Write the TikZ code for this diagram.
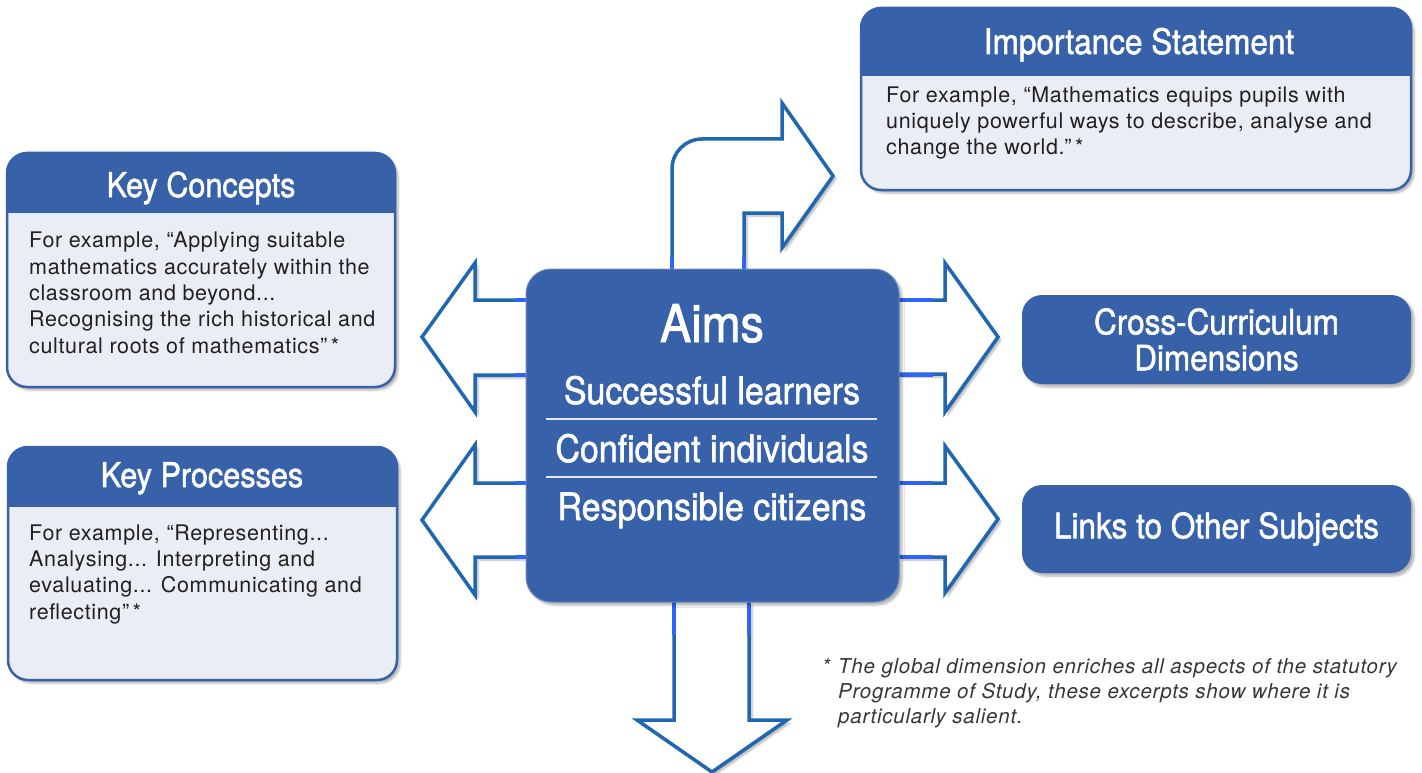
\documentclass[tikz,border=0pt]{standalone}
\usepackage{fontspec}
\usepackage{xcolor}
\usepackage{tikz}
\usetikzlibrary{shadows.blur}

\setmainfont{TeX Gyre Heros}
\newfontfamily\condfont[FakeStretch=0.9,FakeBold=1.5]{TeX Gyre Heros}
\newfontfamily\bodyfont[LetterSpace=3]{TeX Gyre Heros}
\newfontfamily\notefont[LetterSpace=3.8]{TeX Gyre Heros}

\definecolor{boxblue}{RGB}{55,97,168}
\definecolor{arrowblue}{RGB}{33,102,177}
\definecolor{brightblue}{RGB}{45,100,250}
\definecolor{panelfill}{RGB}{233,238,246}
\definecolor{inktext}{RGB}{35,31,32}

\begin{document}
\begin{tikzpicture}[x=1pt,y=-1pt,
    soft/.style={blur shadow={shadow xshift=3pt,shadow yshift=-3pt,shadow blur steps=6,shadow opacity=30}},
    panel/.style={draw=boxblue,line width=2.5pt,fill=panelfill,rounded corners=20pt,inner sep=0pt,soft,
        path picture={\fill[boxblue,sharp corners] (path picture bounding box.north west) rectangle ([yshift=-#1]path picture bounding box.north east);}},
    tag/.style={fill=boxblue,rounded corners=20pt,inner sep=0pt,soft,text=white,align=center,
        font=\condfont\fontsize{35}{36}\selectfont},
    headtext/.style={text=white,font=\condfont\fontsize{34}{40}\selectfont,anchor=base},
    aimtext/.style={text=white,font=\condfont\fontsize{37.7}{44}\selectfont,anchor=base},
    bodytext/.style={text=inktext,font=\bodyfont\fontsize{21.5}{26.3}\selectfont,align=left,anchor=base west,inner sep=0pt},
    blockarrow/.style={draw=arrowblue,line width=3.5pt,fill=white,line join=miter,soft},
    seam/.style={draw=brightblue,line width=3.5pt}]
    \useasboundingbox (0,0) rectangle (1422,773);

    % block arrows out of the aims box
    \draw[blockarrow] (526,300) -- (475,300) -- (475,263) -- (422,337) -- (475,412) -- (475,375) -- (526,375);
    \draw[blockarrow] (526,483) -- (475,483) -- (475,445) -- (422,520) -- (475,595) -- (475,557) -- (526,557);
    \draw[blockarrow] (899,300) -- (945,300) -- (945,263) -- (998,337) -- (945,412) -- (945,374) -- (899,374);
    \draw[blockarrow] (899,483) -- (945,483) -- (945,446) -- (998,519) -- (945,593) -- (945,557) -- (899,557);
    \draw[blockarrow] (672,269) -- (672,169) .. controls (672,152.4) and (685.4,139) .. (702,139) -- (782,139)
        -- (782,103) -- (833,176) -- (782,248) -- (782,213) -- (744,213) -- (744,269);
    \draw[blockarrow] (674,602) -- (674,720) -- (637,720) -- (712,772) -- (787,720) -- (749,720) -- (749,602);
    \foreach \y in {300,375,483,557} {
        \draw[seam] (515,\y) -- (526,\y);
        \draw[seam] (899,\y) -- (933,\y);
    }
    \foreach \x in {672,744} \draw[seam] (\x,257) -- (\x,269);
    \foreach \x in {674,749} \draw[seam] (\x,602) -- (\x,635);

    % aims
    \node[tag,rounded corners=25pt,draw=boxblue!75!white,line width=1pt,minimum width=373pt,minimum height=333pt] (aims) at (712.5,435.5) {};
    \node[text=white,font=\condfont\fontsize{52}{60}\selectfont,anchor=base] (aimshead) at (712,342) {Aims};
    \node[aimtext] (learners) at (712,404) {Successful learners};
    \node[aimtext] (individuals) at (712,462) {Confident individuals};
    \node[aimtext] (citizens) at (712,520) {Responsible citizens};
    \draw[white!85!boxblue,line width=1.5pt] (546,419) -- (877,419);
    \draw[white!85!boxblue,line width=1.5pt] (546,477) -- (877,477);

    % panels (text nodes sit on the baseline of their last line)
    \node[panel=60pt,minimum width=388pt,minimum height=234pt] (concepts) at (201,270) {};
    \node[headtext] (conceptshead) at (201,197) {Key Concepts};
    \node[bodytext] (conceptstext) at (29,353) {For example, “Applying suitable\\mathematics accurately within the\\classroom and beyond...\\Recognising the rich historical and\\cultural roots of mathematics”\,*};

    \node[panel=60pt,minimum width=389pt,minimum height=233pt] (processes) at (202.5,563.5) {};
    \node[headtext] (processeshead) at (202,487) {Key Processes};
    \node[bodytext] (processestext) at (29,619) {For example, “Representing...\\Analysing... Interpreting and\\evaluating... Communicating and\\reflecting”\,*};

    \node[panel=68pt,minimum width=550pt,minimum height=182pt] (importance) at (1136,99) {};
    \node[headtext,font=\condfont\fontsize{35}{40}\selectfont] (importancehead) at (1139,54) {Importance Statement};
    \node[bodytext] (importancetext) at (886,155) {For example, “Mathematics equips pupils with\\uniquely powerful ways to describe, analyse and\\change the world.”\,*};

    \node[tag,minimum width=389pt,minimum height=89pt] (cross) at (1216.5,339.5) {Cross-Curriculum\\Dimensions};
    \node[tag,minimum width=389pt,minimum height=88pt] (links) at (1216.5,529) {Links to Other Subjects};

    % footnote
    \node[text=inktext!90!white,font=\notefont\itshape\fontsize{20.5}{25}\selectfont,anchor=base west,inner sep=0pt] (star) at (822,673) {*};
    \node[text=inktext!90!white,font=\notefont\itshape\fontsize{20.5}{25}\selectfont,align=left,anchor=base west,inner sep=0pt] (note) at (838,723)
        {The global dimension enriches all aspects of the statutory\\Programme of Study, these excerpts show where it is\\particularly salient.};
\end{tikzpicture}
\end{document}
